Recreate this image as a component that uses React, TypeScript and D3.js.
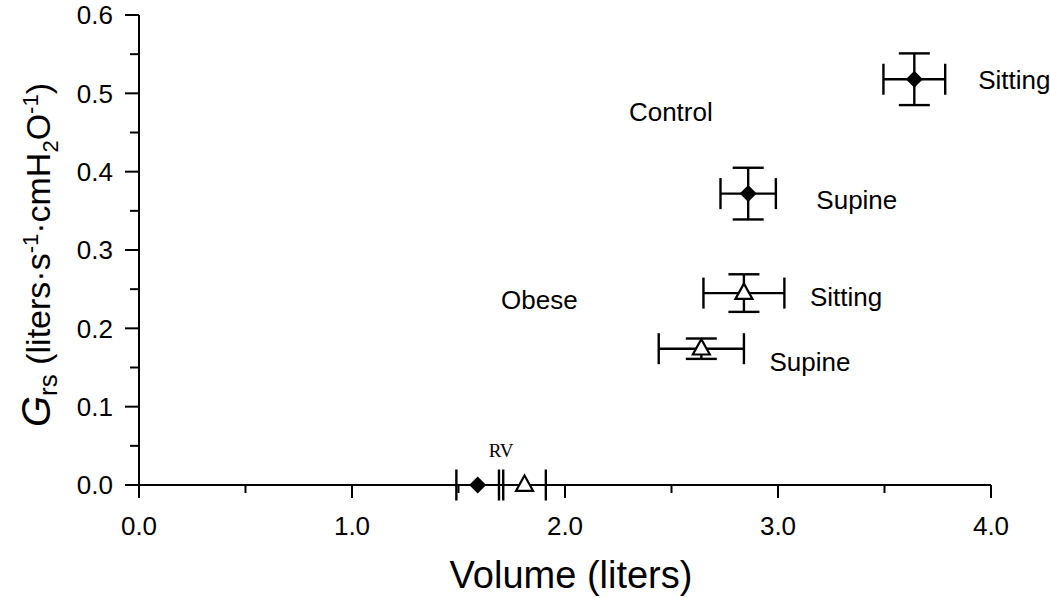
import React from "react";
import * as d3 from "d3";

const groups = ["Control", "Control", "Obese", "Obese"];
const postures = ["Sitting", "Supine", "Sitting", "Supine"];
const volume = [3.64, 2.86, 2.84, 2.64];
const volumeErr = [0.145, 0.13, 0.19, 0.2];
const grs = [0.518, 0.372, 0.245, 0.174];
const grsErr = [0.033, 0.033, 0.024, 0.013];

const rvGroups = ["Control", "Obese"];
const rvVolume = [1.59, 1.81];
const rvErr = [0.1, 0.1];

const xMajorTicks = [0, 1, 2, 3, 4];
const xMinorTicks = [0.5, 1.5, 2.5, 3.5];
const yMajorTicks = [0, 0.1, 0.2, 0.3, 0.4, 0.5, 0.6];
const yMinorTicks = [0.05, 0.15, 0.25, 0.35, 0.45, 0.55];

// label placements: [x-volume, y-grs] in data units
const postureLabelPos = [
  [3.94, 0.518],
  [3.18, 0.364],
  [3.15, 0.24],
  [2.96, 0.158],
];
const groupLabels = ["Control", "Obese"];
const groupLabelPos = [
  [2.3, 0.477],
  [1.7, 0.236],
];

const W = 1050;
const H = 598;
const FONT = "'Liberation Sans', Arial, sans-serif";

export default function App() {
  const x = d3.scaleLinear().domain([0, 4]).range([139, 991]);
  const y = d3.scaleLinear().domain([0, 0.6]).range([485, 15]);
  const sw = 2.4;
  const cap = 15.5;

  const diamond = (cx: number, cy: number, r: number) =>
    `M${cx},${cy - r} L${cx + r},${cy} L${cx},${cy + r} L${cx - r},${cy} Z`;
  const triangle = (cx: number, cy: number, s: number) => {
    const h = s * 0.9;
    return `M${cx},${cy - h * 0.62} L${cx + s / 2},${cy + h * 0.38} L${cx - s / 2},${cy + h * 0.38} Z`;
  };

  return (
    <div style={{ position: "absolute", left: 0, top: 0, width: W, height: H, background: "#fff" }}>
      <svg width={W} height={H} style={{ display: "block" }} fontFamily={FONT}>
        <rect width={W} height={H} fill="#fff" />
        {/* axes */}
        <line x1={x(0)} x2={x(0)} y1={y(0.6)} y2={y(0) + 13} stroke="#000" strokeWidth={2} />
        <line x1={x(0) - 14} x2={x(4)} y1={y(0)} y2={y(0)} stroke="#000" strokeWidth={2} />
        {xMajorTicks.map((t) => (
          <g key={"xm" + t}>
            <line x1={x(t)} x2={x(t)} y1={y(0)} y2={y(0) + 13} stroke="#000" strokeWidth={2} />
            <text x={x(t)} y={535} textAnchor="middle" fontSize={26}>
              {t.toFixed(1)}
            </text>
          </g>
        ))}
        {xMinorTicks.map((t) => (
          <line key={"xn" + t} x1={x(t)} x2={x(t)} y1={y(0)} y2={y(0) + 8} stroke="#000" strokeWidth={2} />
        ))}
        {yMajorTicks.map((t) => (
          <g key={"ym" + t}>
            <line x1={x(0) - 14} x2={x(0)} y1={y(t)} y2={y(t)} stroke="#000" strokeWidth={2} />
            <text x={113} y={y(t)} dy="0.36em" textAnchor="end" fontSize={26}>
              {t.toFixed(1)}
            </text>
          </g>
        ))}
        {yMinorTicks.map((t) => (
          <line key={"yn" + t} x1={x(0) - 9} x2={x(0)} y1={y(t)} y2={y(t)} stroke="#000" strokeWidth={2} />
        ))}

        {/* axis titles */}
        <text x={(x(0) + x(4)) / 2 + 6} y={588} textAnchor="middle" fontSize={38}>
          Volume (liters)
        </text>
        <text transform={`translate(50,255) rotate(-90)`} textAnchor="middle" fontSize={34}>
          <tspan fontStyle="italic" fontSize={40}>G</tspan>
          <tspan fontSize={26} dy={7}>rs</tspan>
          <tspan dy={-7}> (liters·s</tspan>
          <tspan fontSize={22} dy={-12}>-1</tspan>
          <tspan dy={12}>·cmH</tspan>
          <tspan fontSize={22} dy={8}>2</tspan>
          <tspan dy={-8}>O</tspan>
          <tspan fontSize={22} dy={-12}>-1</tspan>
          <tspan dy={12}>)</tspan>
        </text>

        {/* data points with error bars */}
        {volume.map((v, i) => {
          const cx = x(v);
          const cy = y(grs[i]);
          const x1 = x(v - volumeErr[i]);
          const x2 = x(v + volumeErr[i]);
          const y1 = y(grs[i] + grsErr[i]);
          const y2 = y(grs[i] - grsErr[i]);
          return (
            <g key={"p" + i} stroke="#000" strokeWidth={sw}>
              <line x1={x1} x2={x2} y1={cy} y2={cy} />
              <line x1={x1} x2={x1} y1={cy - cap} y2={cy + cap} />
              <line x1={x2} x2={x2} y1={cy - cap} y2={cy + cap} />
              <line x1={cx} x2={cx} y1={y1} y2={y2} />
              <line x1={cx - cap} x2={cx + cap} y1={y1} y2={y1} />
              <line x1={cx - cap} x2={cx + cap} y1={y2} y2={y2} />
              {groups[i] === "Control" ? (
                <path d={diamond(cx, cy, 8.5)} fill="#000" stroke="none" />
              ) : (
                <path d={triangle(cx, cy, 17)} fill="#fff" strokeWidth={2.2} />
              )}
            </g>
          );
        })}

        {/* RV points on axis */}
        {rvVolume.map((v, i) => {
          const cx = x(v);
          const cy = y(0);
          const x1 = x(v - rvErr[i]);
          const x2 = x(v + rvErr[i]);
          return (
            <g key={"rv" + i} stroke="#000" strokeWidth={sw}>
              <line x1={x1} x2={x1} y1={cy - cap} y2={cy + cap} />
              <line x1={x2} x2={x2} y1={cy - cap} y2={cy + cap} />
              {rvGroups[i] === "Control" ? (
                <path d={diamond(cx, cy, 8.5)} fill="#000" stroke="none" />
              ) : (
                <path d={triangle(cx, cy, 17)} fill="#fff" strokeWidth={2.2} />
              )}
            </g>
          );
        })}
        <text x={x((rvVolume[0] + rvVolume[1]) / 2)} y={457} textAnchor="middle" fontSize={19}
          fontFamily="'Liberation Serif', 'Times New Roman', serif">
          RV
        </text>

        {/* labels */}
        {postures.map((p, i) => (
          <text key={"l" + i} x={x(postureLabelPos[i][0])} y={y(postureLabelPos[i][1])} dy="0.36em" fontSize={26}>
            {p}
          </text>
        ))}
        {groupLabels.map((g, i) => (
          <text key={"g" + i} x={x(groupLabelPos[i][0])} y={y(groupLabelPos[i][1])} dy="0.36em" fontSize={26}>
            {g}
          </text>
        ))}
      </svg>
    </div>
  );
}
